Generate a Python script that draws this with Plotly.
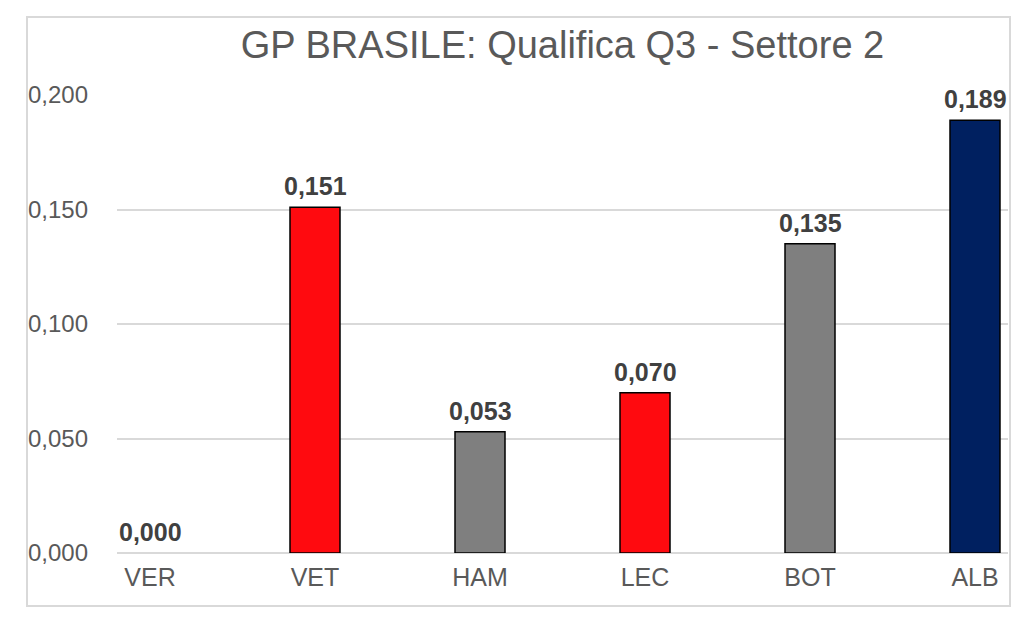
import plotly.graph_objects as go

drivers = ["VER", "VET", "HAM", "LEC", "BOT", "ALB"]
gaps = [0.000, 0.151, 0.053, 0.070, 0.135, 0.189]
bar_colors = ["#ff0a0f", "#ff0a0f", "#7f7f7f", "#ff0a0f", "#7f7f7f", "#002060"]
y_ticks = [0.0, 0.05, 0.10, 0.15, 0.20]
title_text = "GP BRASILE: Qualifica Q3 - Settore 2"

W, H = 1024, 625
L, R, T, B = 117, 16, 95, 72
pw, ph = W - L - R, H - T - B

fig = go.Figure()
fig.add_trace(go.Bar(
    x=list(range(len(drivers))),
    y=gaps,
    width=0.303,
    marker=dict(color=bar_colors,
                line=dict(color="#000000", width=[0 if v == 0 else 1.5 for v in gaps])),
    hoverinfo="skip",
))

for i, v in enumerate(gaps):
    fig.add_annotation(x=i, y=v, xref="x", yref="y", text=f"{v:.3f}".replace(".", ","),
                       showarrow=False, yanchor="bottom", yshift=5,
                       font=dict(family="Liberation Sans", size=25, color="#404040", weight="bold"))

def px_x(x):
    return (x - L) / pw

def px_y(y):
    return (H - B - y) / ph

fig.add_shape(type="rect", xref="paper", yref="paper",
              x0=px_x(27), x1=px_x(1010), y0=px_y(606), y1=px_y(17),
              line=dict(color="#d9d9d9", width=2), layer="below")

fig.update_layout(
    width=W, height=H,
    margin=dict(l=L, r=R, t=T, b=B),
    paper_bgcolor="white", plot_bgcolor="white",
    separators=",.",
    showlegend=False,
    font=dict(family="Liberation Sans", color="#595959"),
    title=dict(text=title_text, x=0.5, xref="paper", xanchor="center",
               y=1 - 45 / H, yref="container", yanchor="middle",
               font=dict(family="Liberation Sans", size=38, color="#595959")),
    xaxis=dict(
        range=[-0.2, len(drivers) - 0.8],
        tickmode="array", tickvals=list(range(len(drivers))), ticktext=drivers,
        showgrid=False, zeroline=False, showline=False, ticks="",
        tickfont=dict(size=25, color="#595959"),
        ticklabelstandoff=7,
    ),
    yaxis=dict(
        range=[0, 0.2],
        tickmode="array", tickvals=y_ticks, tickformat=".3f",
        showgrid=True, gridcolor="#d9d9d9", gridwidth=2,
        zeroline=True, zerolinecolor="#d9d9d9", zerolinewidth=2,
        showline=False, ticks="",
        tickfont=dict(size=24, color="#595959"),
        ticklabelstandoff=28,
    ),
)

fig.write_html("out.html")
